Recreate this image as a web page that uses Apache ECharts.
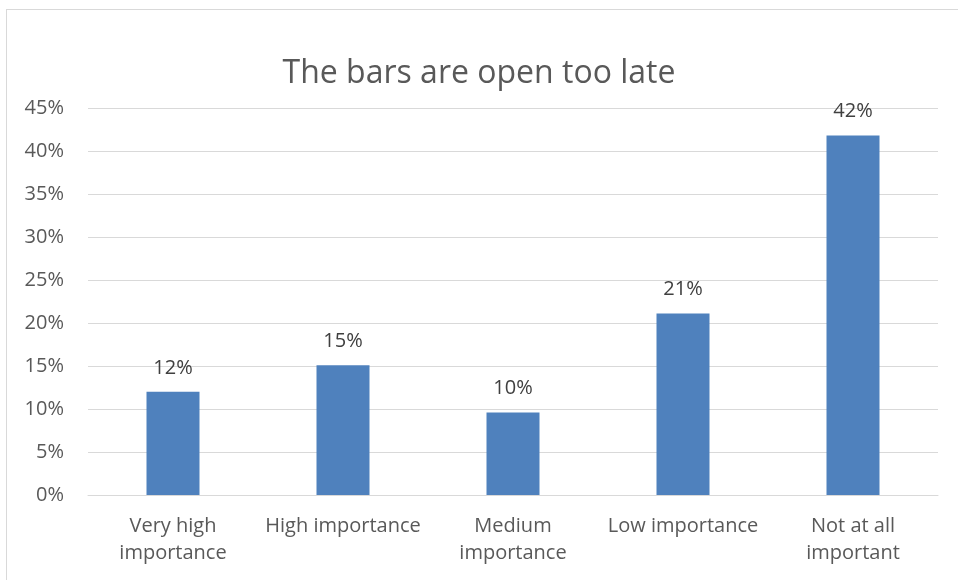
<!DOCTYPE html>
<html><head><meta charset="utf-8">
<script src="https://cdn.jsdelivr.net/npm/echarts@6/dist/echarts.min.js"></script>
<style>html,body{margin:0;padding:0;background:#fff}#c{width:958px;height:580px}
#frame{position:absolute;left:6px;top:9px;width:980px;height:600px;border:1px solid #d9d9d9;box-sizing:border-box;pointer-events:none}</style>
</head><body><div id="c"></div><div id="frame"></div>
<script>
const titleText = "The bars are open too late";
const categories = ["Very high\nimportance", "High importance", "Medium\nimportance", "Low importance", "Not at all\nimportant"];
const values = [0.12, 0.151, 0.096, 0.211, 0.418];
const yTicks = {min: 0, max: 0.45, interval: 0.05};
const font = "Open Sans";
const chart = echarts.init(document.getElementById('c'));
chart.setOption({
  animation: false,
  title: {text: titleText, left: 'center', top: 53, textStyle: {fontFamily: font, fontSize: 32, fontWeight: 'normal', color: '#595959'}},
  grid: {left: 88, right: 20, top: 108, bottom: 85, containLabel: false},
  xAxis: {type: 'category', data: categories,
    axisLine: {lineStyle: {color: '#d9d9d9', width: 1}}, axisTick: {show: false},
    axisLabel: {fontFamily: font, fontSize: 20, color: '#595959', margin: 18, lineHeight: 27, interval: 0}},
  yAxis: {type: 'value', min: yTicks.min, max: yTicks.max, interval: yTicks.interval,
    axisLine: {show: false}, axisTick: {show: false},
    splitLine: {lineStyle: {color: '#d9d9d9', width: 1}},
    axisLabel: {fontFamily: font, fontSize: 20, color: '#595959', margin: 24, formatter: v => Math.round(v * 100) + '%'}},
  series: [{type: 'bar', data: values, barWidth: 53, itemStyle: {color: '#4f81bd'},
    label: {show: true, position: 'top', distance: 14, fontFamily: font, fontSize: 20, color: '#404040', formatter: p => Math.round(p.value * 100) + '%'}}]
});
</script></body></html>
